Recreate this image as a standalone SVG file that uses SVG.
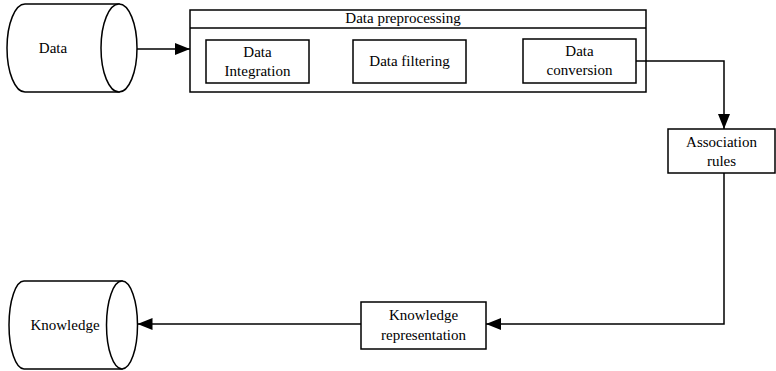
<svg xmlns="http://www.w3.org/2000/svg" width="776" height="371" viewBox="0 0 776 371">
<defs>
<marker id="ah" markerWidth="16" markerHeight="12" refX="15" refY="6" orient="auto" markerUnits="userSpaceOnUse">
<path d="M0,0 L15,6 L0,12 Z" fill="#000"/>
</marker>
<style>
.s{fill:#fff;stroke:#000;stroke-width:1.5}
.n{fill:none;stroke:#000;stroke-width:1.5}
.c{fill:none;stroke:#000;stroke-width:1.5}
</style>
</defs>
<rect width="776" height="371" fill="#fff"/>
<g font-family="Liberation Serif" font-size="15" text-anchor="middle" fill="#000">
<g id="data">
<path class="s" d="M25,4 L119,4 L119,92 L25,92 A18,44 0 0 1 25,4 Z"/>
<ellipse class="s" cx="119" cy="48" rx="18" ry="44"/>
<text x="53" y="53">Data</text>
</g>
<g id="preprocessing">
<rect class="s" x="190" y="10" width="456" height="82"/>
<line class="n" x1="190" y1="28" x2="646" y2="28"/>
<text x="403" y="23">Data preprocessing</text>
</g>
<g id="integration">
<rect class="s" x="206" y="40" width="103" height="43"/>
<text x="257.5" y="57">Data</text>
<text x="257.5" y="76">Integration</text>
</g>
<g id="filtering">
<rect class="s" x="353" y="40" width="113" height="43"/>
<text x="409.5" y="66">Data filtering</text>
</g>
<g id="conversion">
<rect class="s" x="523" y="39" width="113" height="44"/>
<text x="579.5" y="56">Data</text>
<text x="579.5" y="75">conversion</text>
</g>
<g id="association">
<rect class="s" x="668" y="129" width="107" height="44"/>
<text x="721.5" y="147">Association</text>
<text x="721.5" y="166">rules</text>
</g>
<g id="representation">
<rect class="s" x="361" y="302" width="125" height="47"/>
<text x="423.5" y="320">Knowledge</text>
<text x="423.5" y="340">representation</text>
</g>
<g id="knowledge">
<path class="s" d="M24,281 L122,281 L122,369 L24,369 A15,44 0 0 1 24,281 Z"/>
<ellipse class="s" cx="122" cy="325" rx="15.5" ry="44"/>
<text x="65" y="330">Knowledge</text>
</g>
</g>
<g id="connectors">
<line class="c" x1="137" y1="49" x2="190" y2="49" marker-end="url(#ah)"/>
<polyline class="c" points="636,61 724,61 724,129" marker-end="url(#ah)"/>
<polyline class="c" points="724,173 724,324 486,324" marker-end="url(#ah)"/>
<line class="c" x1="361" y1="324" x2="137.5" y2="324" marker-end="url(#ah)"/>
</g>
</svg>
